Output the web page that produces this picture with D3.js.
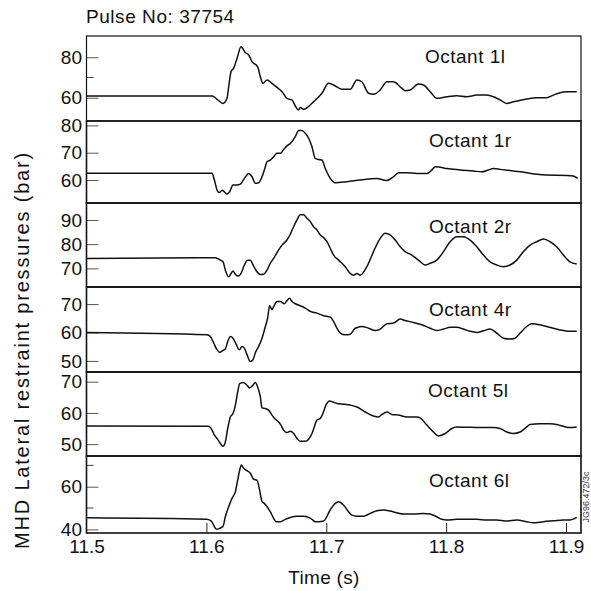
<!DOCTYPE html>
<html><head><meta charset="utf-8">
<script src="https://cdn.jsdelivr.net/npm/d3@7"></script>
<style>body{margin:0;background:#fff}svg{display:block}</style>
</head><body><svg id="c" width="591" height="591"></svg>
<script>
// ---------------- data ----------------
const chartTitle = "Pulse No: 37754";
const xLabel = "Time (s)";
const yLabel = "MHD Lateral restraint pressures (bar)";
const stampText = "JG96.472/3c";
const timeDomain = [11.5, 11.9125];
const xTickValues = [11.5, 11.6, 11.7, 11.8, 11.9];
const panelLabels = ["Octant 1l", "Octant 1r", "Octant 2r", "Octant 4r", "Octant 5l", "Octant 6l"];

const octant1l = [[11.5,60.8],[11.605,60.8],[11.6089,59.2],[11.6139,57.2],[11.6172,59.7],[11.6186,65.4],[11.6206,72.9],[11.6228,74.6],[11.6256,79.5],[11.6289,85.2],[11.6325,82.3],[11.6353,81.1],[11.6381,77.8],[11.6428,75.3],[11.645,70.4],[11.6472,67.1],[11.6506,68.8],[11.6547,67.1],[11.6589,65.1],[11.6631,63.0],[11.6672,59.7],[11.6714,58.9],[11.6742,55.9],[11.6769,53.9],[11.6783,55.2],[11.6811,54.3],[11.6894,58.0],[11.6964,62.2],[11.7019,67.1],[11.7061,66.3],[11.7131,64.2],[11.72,64.2],[11.7256,68.8],[11.7297,67.9],[11.7353,62.2],[11.7394,61.7],[11.745,63.8],[11.7506,67.9],[11.7561,67.9],[11.7617,65.4],[11.7658,63.5],[11.77,63.8],[11.7769,66.8],[11.7811,66.3],[11.7867,63.0],[11.7922,59.7],[11.8006,60.5],[11.8089,61.0],[11.8172,60.5],[11.8256,61.3],[11.8339,61.3],[11.8394,60.5],[11.845,58.9],[11.8506,57.2],[11.8561,58.0],[11.8672,59.4],[11.8756,60.0],[11.8839,60.0],[11.8894,61.3],[11.895,62.5],[11.9006,63.0],[11.9089,63.0]];
const octant1r = [[11.5,62.5],[11.6047,62.5],[11.6067,60.0],[11.6089,56.3],[11.6108,55.4],[11.6131,56.3],[11.615,55.7],[11.6172,54.9],[11.6194,55.7],[11.6222,58.2],[11.6256,58.2],[11.6283,58.5],[11.6317,60.6],[11.6353,62.4],[11.6381,61.2],[11.6408,58.8],[11.6436,59.0],[11.6464,61.2],[11.6492,64.9],[11.6506,66.7],[11.6533,67.3],[11.6561,68.5],[11.6589,69.8],[11.6617,69.8],[11.6644,71.2],[11.6672,72.5],[11.67,73.4],[11.6742,75.9],[11.6769,78.1],[11.6797,78.1],[11.6825,77.1],[11.6853,75.3],[11.6881,72.2],[11.6908,67.9],[11.6936,67.5],[11.6964,67.3],[11.6992,64.2],[11.7033,60.6],[11.7075,59.0],[11.7172,59.4],[11.7283,60.0],[11.7422,60.6],[11.7478,60.0],[11.7506,59.8],[11.7561,61.2],[11.7603,62.7],[11.7672,62.7],[11.7756,62.4],[11.7839,62.4],[11.7881,63.7],[11.7908,64.9],[11.795,64.7],[11.8006,64.2],[11.8117,63.7],[11.8228,63.3],[11.8297,63.0],[11.8353,63.7],[11.8394,64.2],[11.845,63.9],[11.8561,63.3],[11.8672,62.7],[11.8756,62.1],[11.8839,61.8],[11.9006,61.7],[11.9061,61.5],[11.9097,60.6]];
const octant2r = [[11.5,74.1],[11.6075,74.4],[11.6117,73.4],[11.6139,72.7],[11.6158,69.3],[11.6186,66.5],[11.6206,67.9],[11.6222,68.9],[11.6242,67.5],[11.6269,66.8],[11.6289,67.9],[11.6317,71.4],[11.6344,73.4],[11.6367,73.4],[11.6389,71.4],[11.6417,68.9],[11.645,67.5],[11.6478,67.6],[11.6506,69.3],[11.6533,72.1],[11.6561,74.1],[11.6603,77.6],[11.6631,79.6],[11.6672,81.7],[11.67,84.1],[11.6728,87.2],[11.6756,90.0],[11.6783,92.1],[11.6811,92.1],[11.6839,90.7],[11.6867,89.3],[11.6894,87.2],[11.6922,85.9],[11.695,83.8],[11.6978,82.7],[11.7006,81.0],[11.7033,78.3],[11.7061,75.5],[11.7103,73.4],[11.7158,70.7],[11.72,67.9],[11.7228,67.2],[11.7256,67.9],[11.7283,67.2],[11.7339,70.7],[11.7394,76.9],[11.745,82.4],[11.7492,84.5],[11.7533,83.8],[11.7575,81.7],[11.7617,78.9],[11.7658,76.9],[11.7714,75.5],[11.7769,73.4],[11.7825,71.4],[11.7867,72.1],[11.7922,73.4],[11.7978,76.9],[11.8033,81.0],[11.8089,83.1],[11.8144,83.1],[11.82,81.7],[11.8256,78.9],[11.8311,75.5],[11.8367,72.7],[11.8422,71.4],[11.8478,70.7],[11.8533,71.4],[11.8589,73.4],[11.8644,76.9],[11.87,79.6],[11.8756,81.0],[11.8811,82.1],[11.8867,81.0],[11.8922,78.9],[11.8978,75.5],[11.9033,72.7],[11.9089,71.8]];
const octant4r = [[11.5,60.0],[11.6006,59.2],[11.6033,58.6],[11.6061,56.3],[11.6089,53.9],[11.6111,53.0],[11.6139,53.7],[11.6158,54.2],[11.6178,56.8],[11.62,58.6],[11.6222,58.0],[11.625,55.7],[11.6275,53.9],[11.6297,55.1],[11.6317,54.5],[11.6339,52.2],[11.6367,49.8],[11.6389,50.4],[11.6408,52.8],[11.6436,55.1],[11.6464,58.0],[11.6492,62.1],[11.6511,65.1],[11.6528,69.4],[11.6547,68.0],[11.6561,69.1],[11.6589,70.9],[11.6617,70.9],[11.665,70.1],[11.6672,71.2],[11.6694,72.0],[11.6714,70.9],[11.6742,70.1],[11.6783,69.4],[11.6825,68.6],[11.6867,67.4],[11.6922,66.8],[11.6978,65.9],[11.7033,65.4],[11.7061,63.9],[11.7089,61.5],[11.7117,59.8],[11.7158,59.2],[11.72,59.4],[11.7242,61.5],[11.7297,62.1],[11.7353,61.5],[11.7408,60.7],[11.745,61.2],[11.7506,63.1],[11.7561,63.3],[11.7617,64.7],[11.7658,64.2],[11.7728,63.5],[11.7797,62.7],[11.7867,61.5],[11.7922,60.7],[11.7978,61.2],[11.8033,61.8],[11.8089,61.8],[11.8144,61.2],[11.82,60.4],[11.8256,60.0],[11.8311,60.6],[11.8367,61.2],[11.8422,59.8],[11.8478,58.0],[11.8533,57.7],[11.8575,58.0],[11.8617,59.8],[11.8672,62.1],[11.8714,63.1],[11.8783,62.7],[11.8839,62.1],[11.8894,61.5],[11.895,60.9],[11.9033,60.4],[11.9089,60.4]];
const octant5l = [[11.5,55.8],[11.6019,55.7],[11.6047,54.5],[11.6067,52.9],[11.6089,51.8],[11.6117,50.2],[11.6139,49.3],[11.6158,50.7],[11.6178,55.0],[11.62,58.7],[11.6222,59.8],[11.6242,62.5],[11.6261,66.7],[11.6278,69.4],[11.6306,69.7],[11.6333,69.1],[11.6361,68.0],[11.6389,68.9],[11.6408,69.7],[11.6428,68.3],[11.645,65.1],[11.6464,61.6],[11.6492,61.4],[11.6519,60.9],[11.6547,59.3],[11.6575,58.0],[11.6603,57.1],[11.6622,56.1],[11.6644,54.5],[11.6672,53.7],[11.67,54.1],[11.6728,53.4],[11.6756,51.8],[11.6783,50.9],[11.6825,50.9],[11.6853,51.6],[11.6881,53.4],[11.69,55.5],[11.6922,57.7],[11.695,58.2],[11.6972,59.8],[11.7,62.7],[11.7028,63.8],[11.7056,63.5],[11.7089,63.0],[11.7144,62.8],[11.72,62.5],[11.7256,61.9],[11.7325,60.3],[11.7394,59.0],[11.7436,58.7],[11.7464,59.5],[11.7506,60.3],[11.7547,59.5],[11.7603,59.3],[11.7672,58.7],[11.7756,58.7],[11.7783,58.4],[11.7839,56.1],[11.7894,53.9],[11.7936,52.6],[11.7992,53.4],[11.8047,55.0],[11.8089,55.5],[11.8172,55.4],[11.8283,55.3],[11.8394,55.3],[11.845,55.0],[11.8506,53.9],[11.8561,53.4],[11.8617,53.9],[11.8672,55.5],[11.87,56.3],[11.8783,56.5],[11.8867,56.5],[11.8922,56.3],[11.8978,55.7],[11.9033,55.3],[11.9089,55.5]];
const octant6l = [[11.5,45.4],[11.6,44.7],[11.6039,44.0],[11.6061,42.0],[11.6083,40.0],[11.6111,40.5],[11.6139,41.5],[11.6158,45.9],[11.6186,50.6],[11.6214,54.6],[11.6242,57.7],[11.6261,63.1],[11.6278,67.8],[11.6292,70.2],[11.6311,68.6],[11.6339,67.5],[11.6367,66.3],[11.6394,63.5],[11.6422,63.1],[11.6444,58.5],[11.6464,53.0],[11.6483,52.2],[11.6506,50.6],[11.6533,48.3],[11.6561,45.2],[11.6583,43.6],[11.6617,43.6],[11.6658,44.7],[11.67,45.6],[11.6756,46.2],[11.6811,46.2],[11.6853,45.6],[11.6881,44.7],[11.6908,43.6],[11.6936,43.6],[11.6978,43.9],[11.7033,49.1],[11.7075,52.2],[11.7103,53.0],[11.7144,51.4],[11.7186,48.3],[11.7214,46.7],[11.7256,46.2],[11.7311,46.2],[11.7367,47.5],[11.7422,48.7],[11.7478,49.1],[11.7533,48.6],[11.7589,47.8],[11.7644,47.2],[11.7728,47.2],[11.7811,47.5],[11.7867,47.2],[11.7922,45.9],[11.7964,44.7],[11.8006,44.4],[11.8089,44.7],[11.8172,44.7],[11.8256,44.7],[11.8339,44.4],[11.8422,44.4],[11.8506,43.9],[11.8589,44.4],[11.8672,43.6],[11.8728,43.1],[11.8811,43.6],[11.8894,44.0],[11.8978,44.4],[11.9033,44.4],[11.9075,45.2],[11.9089,45.6]];

const yDomains = [[48.5,90.5],[51.6,81.6],[62.3,97],[46.1,76],[46.2,73.1],[38.3,74.4]];
const yMajorTicks = [[60,80],[60,70,80],[70,80,90],[50,60,70],[50,60,70],[40,60]];
const yMinorTicks = [[70],[],[],[],[],[50,70]];

// ---------------- layout ----------------
const series = [octant1l, octant1r, octant2r, octant4r, octant5l, octant6l];
const W = 591, H = 591;
const left = 86.5, right = 581;
const edges = [36, 121, 203, 287, 372, 456, 533];
const labelPos = [[425, 27], [429, 26], [429, 30], [429, 29], [428, 25], [429, 30.5]];
const font = "'Liberation Sans', Arial, Helvetica, sans-serif";

const svg = d3.select("#c");
svg.append("rect").attr("width", W).attr("height", H).attr("fill", "#fff");

const x = d3.scaleLinear().domain(timeDomain).range([left, right]);

series.forEach((data, i) => {
  const top = edges[i], bottom = edges[i + 1];
  const y = d3.scaleLinear().domain(yDomains[i]).range([bottom, top]);
  const g = svg.append("g");

  g.selectAll("line.minor").data(yMinorTicks[i]).join("line")
    .attr("x1", left).attr("x2", left + 7)
    .attr("y1", d => y(d)).attr("y2", d => y(d))
    .attr("stroke", "#444").attr("stroke-width", 1);

  const ax = g.append("g").attr("transform", `translate(${left},0)`)
    .call(d3.axisLeft(y).tickValues(yMajorTicks[i]).tickSize(-12).tickPadding(4.5).tickFormat(d3.format("d")));
  ax.select(".domain").remove();
  ax.selectAll(".tick line").attr("stroke", "#555").attr("stroke-width", 1);
  ax.selectAll(".tick text").attr("font-family", font).attr("font-size", 19).attr("fill", "#111");

  const line = d3.line().x(d => x(d[0])).y(d => y(d[1])).curve(d3.curveMonotoneX);
  g.append("path").datum(data).attr("d", line)
    .attr("fill", "none").attr("stroke", "#111").attr("stroke-width", 1.5)
    .attr("stroke-linejoin", "round");

  g.append("rect").attr("x", left).attr("y", top)
    .attr("width", right - left).attr("height", bottom - top)
    .attr("fill", "none").attr("stroke", "#111").attr("stroke-width", i === 0 ? 1.2 : 1.6);

  g.append("text").attr("x", labelPos[i][0]).attr("y", top + labelPos[i][1])
    .attr("font-family", font).attr("font-size", 19).attr("letter-spacing", 0.5)
    .attr("fill", "#111").text(panelLabels[i]);
});

const xa = svg.append("g").attr("transform", `translate(0,${edges[6]})`)
  .call(d3.axisBottom(x).tickValues(xTickValues).tickSize(-10).tickPadding(7).tickFormat(d3.format(".1f")));
xa.select(".domain").remove();
xa.selectAll(".tick line").attr("stroke", "#222").attr("stroke-width", 1)
  .attr("opacity", d => d === xTickValues[0] ? 0 : 1);
xa.selectAll(".tick text").attr("font-family", font).attr("font-size", 19).attr("fill", "#111");

svg.append("text").attr("x", 86).attr("y", 23).attr("font-family", font)
  .attr("font-size", 19).attr("letter-spacing", 0.55).attr("fill", "#111").text(chartTitle);
svg.append("text").attr("x", 324).attr("y", 584).attr("text-anchor", "middle")
  .attr("font-family", font).attr("font-size", 19).attr("letter-spacing", 0.3).attr("fill", "#111").text(xLabel);
svg.append("text").attr("transform", "translate(29,350) rotate(-90)").attr("text-anchor", "middle")
  .attr("font-family", font).attr("font-size", 20).attr("letter-spacing", 1.8).attr("fill", "#111").text(yLabel);
svg.append("text").attr("transform", "translate(588.5,497) rotate(-90)").attr("text-anchor", "middle")
  .attr("font-family", font).attr("font-size", 9).attr("fill", "#333").text(stampText);
</script>
</body></html>
